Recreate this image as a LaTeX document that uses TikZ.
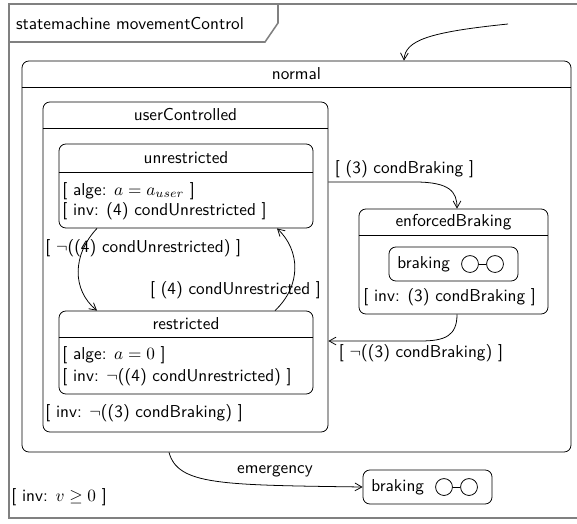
\documentclass[tikz,border=0pt]{standalone}
\usetikzlibrary{fit,arrows.meta}
\begin{document}
\begin{tikzpicture}[x=0.58pt,y=-0.58pt,
  smstate/.style={draw, rounded corners=4pt, inner sep=0pt, line width=0.45pt},
  lbl/.style={inner sep=0pt, font=\fontsize{10}{12}\sffamily},
  trans/.style={-{Straight Barb[length=4pt,width=4.5pt]}, line width=0.45pt},
  divider/.style={line width=0.45pt},
  pseudo/.style={draw, circle, inner sep=0pt, minimum size=9.8pt, line width=0.45pt},
  framestyle/.style={draw=gray, line width=0.9pt}]
\useasboundingbox (0,0) rectangle (577,523);
% frame
\draw[framestyle] (577,4) -- (9,4) -- (9,518) -- (577,518);
\draw[framestyle] (278,4) -- (278,23) -- (265,42) -- (9,42);
\node[lbl] (frametitle) at (130,24) {statemachine movementControl};
% normal
\node[smstate, fit={(22,61) (571,452)}] (normal) {};
\draw[divider] (normal.west |- 0,87) -- (normal.east |- 0,87);
\node[lbl] (tnormal) at (normal.north |- 0,74) {normal};
\coordinate (init) at (508,24);
\draw[trans] (init) .. controls (430,32) and (405,40) .. (404,0 |- normal.north);
% userControlled
\node[smstate, fit={(43,102) (328,432)}] (uc) {};
\draw[divider] (uc.west |- 0,128) -- (uc.east |- 0,128);
\node[lbl] (tuc) at (uc.north |- 0,115) {userControlled};
\node[lbl, anchor=west] (ucinv) at (45,413) {[ inv: $\neg$((3) condBraking) ]};
% unrestricted
\node[smstate, fit={(59,144) (313,228)}] (unr) {};
\draw[divider] (unr.west |- 0,172) -- (unr.east |- 0,172);
\node[lbl] (tunr) at (unr.north |- 0,158) {unrestricted};
\node[lbl, anchor=west] (unr1) at (62,191) {[ alge: $a = a_{user}$ ]};
\node[lbl, anchor=west] (unr2) at (62,211) {[ inv: (4) condUnrestricted ]};
% restricted
\node[smstate, fit={(59,311) (313,394)}] (res) {};
\draw[divider] (res.west |- 0,337) -- (res.east |- 0,337);
\node[lbl] (tres) at (res.north |- 0,324) {restricted};
\node[lbl, anchor=west] (res1) at (62,355) {[ alge: $a = 0$ ]};
\node[lbl, anchor=west] (res2) at (62,377) {[ inv: $\neg$((4) condUnrestricted) ]};
% enforcedBraking
\node[smstate, fit={(359,209) (548,314)}] (eb) {};
\draw[divider] (eb.west |- 0,235) -- (eb.east |- 0,235);
\node[lbl] (teb) at (eb.north |- 0,222) {enforcedBraking};
\node[smstate, fit={(389,247) (518,281)}] (bin) {};
\node[lbl, anchor=west] (tbin) at (397,264) {braking};
\node[pseudo] (bin1) at (470,264) {};
\node[pseudo] (bin2) at (495,264) {};
\draw[line width=0.45pt] (bin1) -- (bin2);
\node[lbl, anchor=west] (ebinv) at (363,297) {[ inv: (3) condBraking ]};
% bottom braking
\node[smstate, fit={(363,470) (492,504)}] (bout) {};
\node[lbl, anchor=west] (tbout) at (371,487) {braking};
\node[pseudo] (bout1) at (444,487) {};
\node[pseudo] (bout2) at (469,487) {};
\draw[line width=0.45pt] (bout1) -- (bout2);
\node[lbl, anchor=west] (ninv) at (11,497) {[ inv: $v \geq 0$ ]};
% transitions
\draw[trans] (97,0 |- unr.south) .. controls (72,255) and (72,290) .. (97,0 |- res.north);
\node[lbl, anchor=west] (l1) at (45,248) {[ $\neg$((4) condUnrestricted) ]};
\draw[trans] (275,0 |- res.north) .. controls (302,285) and (300,250) .. (277,0 |- unr.south);
\node[lbl] (l2) at (235.5,290) {[ (4) condUnrestricted ]};
\draw[trans] (uc.east |- 0,182) -- (415,182) .. controls (450,182) and (457,192) .. (457,0 |- eb.north);
\node[lbl] (l3) at (404.5,169) {[ (3) condBraking ]};
\draw[trans] (457,0 |- eb.south) .. controls (457,336) and (445,341) .. (420,341) -- (uc.east |- 0,341);
\node[lbl] (l4) at (421,353) {[ $\neg$((3) condBraking) ]};
\draw[trans] (169,0 |- normal.south) .. controls (178,485) and (220,485) .. (bout.west);
\node[lbl] (l5) at (275,471) {emergency};
\end{tikzpicture}
\end{document}
